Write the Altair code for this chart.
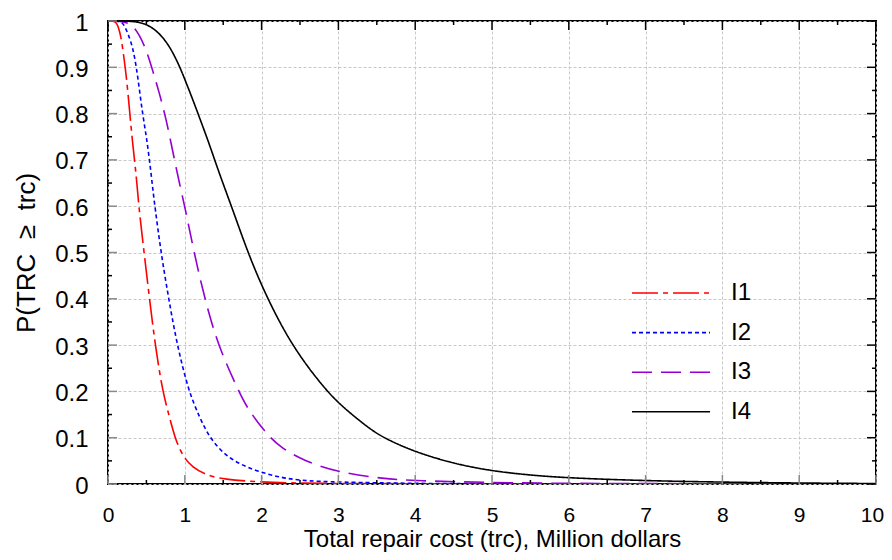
import altair as alt
import pandas as pd

FONT = "Liberation Sans"

series = ["I1", "I2", "I3", "I4"]
colors = ["#ff0000", "#0000ff", "#9400d3", "#000000"]
dashes = [[26, 5, 5, 5], [4, 3], [20, 9], [1, 0]]

i1_x = [0, 0.1, 0.13, 0.17, 0.2, 0.24, 0.28, 0.32, 0.37, 0.4, 0.47, 0.54, 0.615,
        0.71, 0.8, 0.87, 0.975, 1.1, 1.28, 1.5, 2.0, 2.5, 3.0, 4.0, 10.0]
i1_y = [1, 1, 0.99, 0.966, 0.93, 0.88, 0.808, 0.736, 0.664, 0.6, 0.5, 0.4, 0.3,
        0.2, 0.145, 0.1, 0.059, 0.036, 0.019, 0.010, 0.004, 0.002, 0.001, 0.0005, 0]

i2_x = [0, 0.15, 0.2, 0.26, 0.32, 0.37, 0.41, 0.45, 0.5, 0.54, 0.58, 0.61, 0.69,
        0.79, 0.9, 1.05, 1.19, 1.32, 1.54, 1.8, 2.15, 2.5, 3.0, 4.0, 5.0, 10.0]
i2_y = [1, 1, 0.995, 0.973, 0.945, 0.9, 0.851, 0.8, 0.75, 0.7, 0.642, 0.6, 0.5,
        0.4, 0.3, 0.2, 0.145, 0.1, 0.059, 0.036, 0.017, 0.007, 0.004, 0.001, 0.0005, 0]

i3_x = [0, 0.2, 0.32, 0.41, 0.5, 0.58, 0.67, 0.76, 0.84, 0.93, 1.0, 1.12, 1.26,
        1.43, 1.69, 1.8, 2.02, 2.23, 2.55, 3.0, 3.6, 4.0, 5.0, 6.0, 8.0, 10.0]
i3_y = [1, 1, 0.991, 0.97, 0.937, 0.894, 0.844, 0.786, 0.721, 0.649, 0.6, 0.5, 0.4,
        0.3, 0.205, 0.167, 0.117, 0.08, 0.05, 0.025, 0.011, 0.007, 0.003, 0.001, 0.0005, 0.0002]

i4_x = [0, 0.3, 0.45, 0.58, 0.71, 0.82, 0.93, 1.01, 1.1, 1.19, 1.32, 1.45, 1.63,
        1.82, 2.06, 2.39, 2.76, 3.0, 3.36, 3.58, 4.0, 4.5, 5.0, 5.5, 6.0, 7.0, 8.0, 9.0, 10.0]
i4_y = [1, 1, 0.996, 0.986, 0.966, 0.94, 0.903, 0.87, 0.832, 0.792, 0.734, 0.67, 0.59,
        0.5, 0.405, 0.3, 0.218, 0.174, 0.125, 0.1, 0.069, 0.044, 0.028, 0.019, 0.013,
        0.007, 0.004, 0.002, 0.001]

x_major = [0, 1, 2, 3, 4, 5, 6, 7, 8, 9, 10]
x_minor = [0.5, 1.5, 2.5, 3.5, 4.5, 5.5, 6.5, 7.5, 8.5, 9.5]
y_major = [0, 0.1, 0.2, 0.3, 0.4, 0.5, 0.6, 0.7, 0.8, 0.9, 1]
y_minor = [0.05, 0.15, 0.25, 0.35, 0.45, 0.55, 0.65, 0.75, 0.85, 0.95]

x_title = "Total repair cost (trc), Million dollars"
y_title = "P(TRC\u00a0\u00a0\u2265\u00a0\u00a0trc)"

W, H = 768, 463

rows = []
for name, xs, ys in zip(series, [i1_x, i2_x, i3_x, i4_x], [i1_y, i2_y, i3_y, i4_y]):
    for a, b in zip(xs, ys):
        rows.append({"x": a, "y": b, "series": name})
df = pd.DataFrame(rows)

xscale = alt.Scale(domain=[0, 10], nice=False, zero=False)
yscale = alt.Scale(domain=[0, 1], nice=False, zero=False)

x_axis = alt.Axis(
    values=x_major, format="d", title=x_title, grid=True,
    labelFontSize=21, labelPadding=20, labelFlush=False, labelOverlap=False,
    labelOffset={"condition": {"test": "datum.value == 10", "value": -4}, "value": 0},
    titleFontSize=24, titleX=384, titleY=43.8,
)
y_axis = alt.Axis(
    values=y_major, format="~g", title=y_title, grid=True,
    labelFontSize=24, labelPadding=20, labelFlush=False, labelOverlap=False,
    labelOffset=2, titleFontSize=26, titleX=-69, titleY=231.5,
)

legend = alt.Legend(
    title=None, orient="none", legendX=523, legendY=262,
    symbolType="stroke", symbolSize=6084, symbolStrokeWidth=1.6,
    clipHeight=20, rowPadding=15.6, labelFontSize=24, labelFont=FONT,
    labelColor="black", labelOffset=20, padding=0, symbolOffset=0,
)

lines = alt.Chart(df).mark_line(strokeWidth=1.6, interpolate="basis", clip=True).encode(
    x=alt.X("x:Q", scale=xscale, axis=x_axis),
    y=alt.Y("y:Q", scale=yscale, axis=y_axis),
    color=alt.Color("series:N", scale=alt.Scale(domain=series, range=colors), legend=legend),
    strokeDash=alt.StrokeDash("series:N", scale=alt.Scale(domain=series, range=dashes), legend=legend),
)


def xticks(values, color, length, top):
    d = pd.DataFrame({"x": values})
    y0, y1 = (0, length) if top else (H, H - length)
    return alt.Chart(d).mark_rule(color=color, strokeWidth=1.5).encode(
        x=alt.X("x:Q", scale=xscale, axis=x_axis), y=alt.value(y0), y2=alt.value(y1))


def yticks(values, color, length, right):
    d = pd.DataFrame({"y": values})
    x0, x1 = (W, W - length) if right else (0, length)
    return alt.Chart(d).mark_rule(color=color, strokeWidth=1.5).encode(
        y=alt.Y("y:Q", scale=yscale, axis=y_axis), x=alt.value(x0), x2=alt.value(x1))


chart = alt.layer(
    lines,
    xticks(x_major, "#8a8a8a", 9, False),
    xticks(x_major, "black", 9, True),
    xticks(x_minor, "black", 4, False),
    xticks(x_minor, "black", 4, True),
    yticks(y_major, "#8a8a8a", 9, False),
    yticks(y_major, "black", 9, True),
    yticks(y_minor, "black", 4, False),
    yticks(y_minor, "black", 4, True),
).properties(
    width=W, height=H,
    autosize=alt.AutoSizeParams(type="none"),
    padding={"left": 100, "top": 13, "right": 8, "bottom": 68},
    background="white",
).configure_view(
    stroke="black", strokeWidth=2,
).configure_axis(
    labelFont=FONT, titleFont=FONT, labelColor="black", titleColor="black",
    titleFontWeight="normal", domain=False, ticks=False,
    gridColor="#c8c8c8", gridDash=[3, 2], gridWidth=1,
)

chart.save("out.html", embed_options={"renderer": "svg", "actions": False})
